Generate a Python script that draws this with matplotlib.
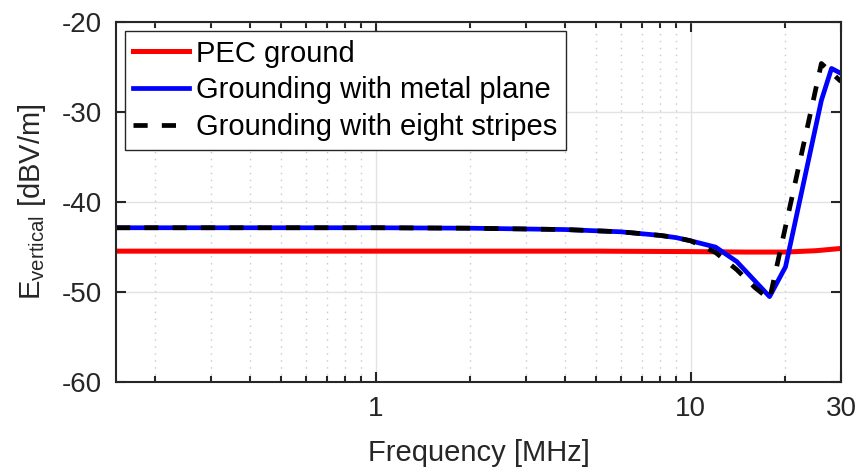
import matplotlib
matplotlib.use("Agg")
import matplotlib.pyplot as plt
from matplotlib.ticker import FixedLocator, NullFormatter, FixedFormatter

plt.rcParams['font.family'] = ['Liberation Sans', 'DejaVu Sans']
plt.rcParams['mathtext.fontset'] = 'custom'
plt.rcParams['mathtext.rm'] = 'Liberation Sans'
plt.rcParams['mathtext.it'] = 'Liberation Sans:italic'
plt.rcParams['mathtext.default'] = 'regular'

# Vertical electric field versus frequency for three grounding configurations
freq_pec = [0.15, 1, 5, 10, 15, 20, 25, 30]
e_pec = [-45.45, -45.45, -45.45, -45.5, -45.55, -45.55, -45.4, -45.15]

freq_plane = [0.15, 1, 2, 4, 6, 8, 9, 10, 12, 14, 17.8, 20, 26, 28, 30]
e_plane = [-42.85, -42.85, -42.9, -43.05, -43.3, -43.7, -43.95, -44.3,
           -45.0, -46.6, -50.5, -47.2, -28.7, -25.15, -25.7]

freq_stripes = [0.15, 1, 2, 4, 6, 8, 9, 10, 12, 14, 16, 17.8, 26, 30]
e_stripes = [-42.85, -42.85, -42.9, -43.05, -43.3, -43.7, -43.95, -44.3,
             -45.6, -47.5, -49.5, -50.8, -24.6, -26.6]

x_major = [1, 10, 30]
x_major_labels = ['1', '10', '30']
x_minor = [0.2, 0.3, 0.4, 0.5, 0.6, 0.7, 0.8, 0.9,
           2, 3, 4, 5, 6, 7, 8, 9, 20]
y_ticks = [-60, -50, -40, -30, -20]

ink = '#262626'

fig = plt.figure(figsize=(8.59, 4.70), dpi=100)
ax = fig.add_axes([0.135, 0.187, 0.844, 0.766])

ax.plot(freq_pec, e_pec, color='#ff0000', lw=3.6, label='PEC ground')
ax.plot(freq_plane, e_plane, color='#0000ff', lw=3.4, label='Grounding with metal plane')
ax.plot(freq_stripes, e_stripes, color='black', lw=3.4, dashes=(3, 3),
        label='Grounding with eight stripes')

ax.set_xscale('log')
ax.set_xlim(0.15, 30)
ax.set_ylim(-60, -20)

ax.xaxis.set_major_locator(FixedLocator(x_major))
ax.xaxis.set_major_formatter(FixedFormatter(x_major_labels))
ax.xaxis.set_minor_locator(FixedLocator(x_minor))
ax.xaxis.set_minor_formatter(NullFormatter())
ax.set_yticks(y_ticks)
ax.set_yticklabels([str(v) for v in y_ticks])

ax.grid(True, which='major', color='#e3e3e3', lw=1.0, ls='-')
ax.grid(True, which='minor', axis='x', color='#c8c8c8', lw=1.0, ls=(0, (1, 4)))
ax.set_axisbelow(True)

ax.tick_params(which='both', direction='in', top=True, right=True,
               colors=ink, labelsize=20, width=1.5)
ax.tick_params(which='major', length=7, pad=10)
ax.tick_params(which='minor', length=4)
for s in ax.spines.values():
    s.set_color(ink)
    s.set_linewidth(1.5)

ax.set_xlabel('Frequency [MHz]', fontsize=21, color=ink, labelpad=12)
ax.set_ylabel(r'E$_{vertical}$ [dBV/m]', fontsize=21, color=ink, labelpad=10)

leg = ax.legend(loc='upper left', fontsize=21, frameon=True, fancybox=False,
                framealpha=1, edgecolor=ink, handlelength=1.9,
                borderaxespad=0.3, labelspacing=0.3, handletextpad=0.25,
                borderpad=0.3)
leg.get_frame().set_linewidth(1.0)
for t in leg.get_texts():
    t.set_color('black')

fig.savefig('out.png', dpi=100)
